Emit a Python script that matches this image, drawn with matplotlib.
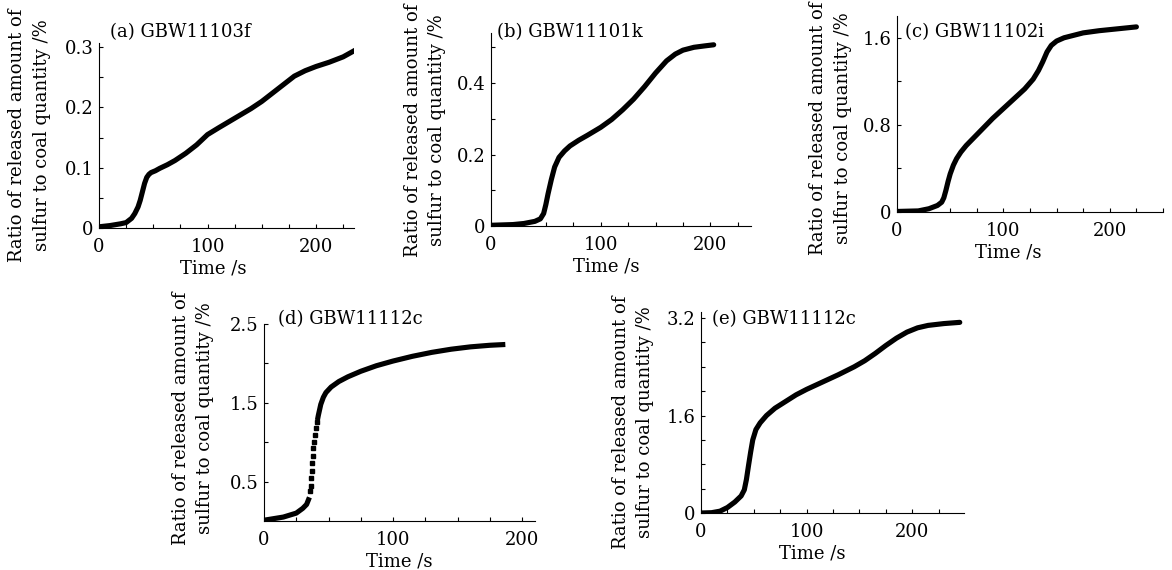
import matplotlib
matplotlib.use("Agg")
import matplotlib.pyplot as plt
from matplotlib.ticker import MultipleLocator, FixedLocator

plt.rcParams['font.family'] = ['DejaVu Serif']

# ---------------- data ----------------
a_t = [0, 10, 20, 25, 30, 33, 36, 38, 40, 42, 44, 46, 48, 52, 56, 63, 70, 80, 90, 100,
       110, 125, 140, 150, 160, 170, 180, 190, 200, 212, 225, 236]
a_v = [0.002, 0.004, 0.007, 0.009, 0.016, 0.024, 0.035, 0.046, 0.060, 0.074, 0.084, 0.089,
       0.092, 0.095, 0.099, 0.105, 0.112, 0.124, 0.138, 0.155, 0.166, 0.182, 0.198, 0.210,
       0.224, 0.238, 0.252, 0.261, 0.268, 0.275, 0.284, 0.295]

b_t = [0, 20, 30, 40, 45, 48, 50, 52, 55, 58, 62, 67, 72, 80, 88, 100, 110, 120, 130, 140,
       150, 160, 168, 175, 185, 195, 203]
b_v = [0.002, 0.004, 0.007, 0.013, 0.020, 0.035, 0.060, 0.090, 0.130, 0.165, 0.192, 0.210,
       0.224, 0.240, 0.254, 0.276, 0.298, 0.325, 0.355, 0.390, 0.428, 0.462, 0.481, 0.492,
       0.500, 0.504, 0.507]

c_t = [0, 20, 30, 38, 42, 44, 46, 48, 50, 53, 56, 60, 65, 70, 80, 90, 100, 110, 120, 128,
       133, 137, 141, 145, 150, 157, 165, 175, 190, 205, 225]
c_v = [0.005, 0.010, 0.030, 0.060, 0.090, 0.130, 0.200, 0.280, 0.350, 0.430, 0.490, 0.550,
       0.610, 0.660, 0.760, 0.860, 0.950, 1.040, 1.130, 1.220, 1.300, 1.380, 1.470, 1.530,
       1.570, 1.600, 1.620, 1.645, 1.665, 1.680, 1.700]

d_t_low = [0, 15, 25, 30, 33, 35.2]
d_v_low = [0.01, 0.05, 0.10, 0.16, 0.21, 0.30]
d_t_jump = [35.7, 36.2, 36.7, 37.2, 37.4, 37.7, 38.2, 38.8, 39.3, 40.1, 41.0]
d_v_jump = [0.38, 0.45, 0.55, 0.63, 0.74, 0.82, 0.93, 1.00, 1.09, 1.18, 1.26]
d_t_high = [41.4, 42.1, 44, 46, 48, 52, 58, 65, 75, 87, 100, 115, 130, 145, 160, 175, 187]
d_v_high = [1.28, 1.34, 1.48, 1.57, 1.63, 1.70, 1.77, 1.83, 1.90, 1.97, 2.03, 2.09, 2.14,
            2.18, 2.21, 2.23, 2.24]

e_t = [0, 10, 18, 25, 32, 38, 41, 43, 45, 47, 49, 52, 56, 62, 70, 80, 90, 100, 115, 130,
       145, 155, 165, 175, 185, 195, 205, 215, 230, 245]
e_v = [0.0, 0.005, 0.03, 0.09, 0.18, 0.28, 0.38, 0.55, 0.78, 1.00, 1.20, 1.37, 1.48, 1.60,
       1.72, 1.83, 1.94, 2.03, 2.15, 2.27, 2.40, 2.50, 2.62, 2.75, 2.87, 2.97, 3.04, 3.08,
       3.11, 3.13]

titles = ["(a) GBW11103f", "(b) GBW11101k", "(c) GBW11102i", "(d) GBW11112c", "(e) GBW11112c"]
ylabel_text = "Ratio of released amount of\nsulfur to coal quantity /%"
xlabel_text = "Time /s"

x_major = [0, 100, 200]
x_major_labels = ["0", "100", "200"]
a_yticks = [0, 0.1, 0.2, 0.3]; a_ylabels = ["0", "0.1", "0.2", "0.3"]
b_yticks = [0, 0.2, 0.4]; b_ylabels = ["0", "0.2", "0.4"]
c_yticks = [0, 0.8, 1.6]; c_ylabels = ["0", "0.8", "1.6"]
d_yticks = [0.5, 1.5, 2.5]; d_ylabels = ["0.5", "1.5", "2.5"]
e_yticks = [0, 1.6, 3.2]; e_ylabels = ["0", "1.6", "3.2"]

# ---------------- layout ----------------
W, H = 1172, 570
fig = plt.figure(figsize=(W / 100, H / 100), dpi=100)
fig.patch.set_facecolor("white")


def add_axes(left, right, top, bottom):
    return fig.add_axes([left / W, 1 - bottom / H, (right - left) / W, (bottom - top) / H])


specs = [
    dict(box=(99, 354, 43, 228), xmax=235, ymax=0.307, yt=a_yticks, yl=a_ylabels, ym=0.05,
         tpos=(110, 37), ypos=(30, 135)),
    dict(box=(491, 751, 33, 226), xmax=237, ymax=0.54, yt=b_yticks, yl=b_ylabels, ym=0.1,
         tpos=(497, 37), ypos=(425, 130)),
    dict(box=(897, 1163, 16, 212), xmax=250, ymax=1.80, yt=c_yticks, yl=c_ylabels, ym=0.4,
         tpos=(905, 37), ypos=(831, 128)),
    dict(box=(264, 535, 324, 521), xmax=210, ymax=2.5, yt=d_yticks, yl=d_ylabels, ym=None,
         tpos=(278, 324), ypos=(193, 418)),
    dict(box=(701, 964, 312, 513), xmax=249, ymax=3.30, yt=e_yticks, yl=e_ylabels, ym=0.4,
         tpos=(712, 324), ypos=(633, 422)),
]

series = [(a_t, a_v), (b_t, b_v), (c_t, c_v), None, (e_t, e_v)]

LW = 3.7
for i, s in enumerate(specs):
    l, r, t, b = s["box"]
    ax = add_axes(l, r, t, b)
    if series[i] is not None:
        ax.plot(series[i][0], series[i][1], color="black", lw=LW, solid_capstyle="round",
                solid_joinstyle="round")
    else:
        ax.plot(d_t_low, d_v_low, color="black", lw=LW, solid_capstyle="butt",
                solid_joinstyle="round")
        ax.plot(d_t_jump, d_v_jump, linestyle="none", marker="s", ms=3.0, color="black")
        ax.plot(d_t_high, d_v_high, color="black", lw=LW, solid_capstyle="butt",
                solid_joinstyle="round")
    ax.set_xlim(0, s["xmax"])
    ax.set_ylim(0, s["ymax"])
    for sp in ["top", "right"]:
        ax.spines[sp].set_visible(False)
    for sp in ["left", "bottom"]:
        ax.spines[sp].set_linewidth(0.8)
    ax.set_xticks(x_major)
    ax.set_xticklabels(x_major_labels)
    ax.xaxis.set_minor_locator(MultipleLocator(25))
    ax.set_yticks(s["yt"])
    ax.set_yticklabels(s["yl"])
    if s["ym"] is not None:
        ax.yaxis.set_minor_locator(MultipleLocator(s["ym"]))
    else:
        ax.yaxis.set_minor_locator(FixedLocator([1.0, 2.0]))
    ax.tick_params(which="both", direction="in", length=3, width=0.8, labelsize=13)
    ax.tick_params(axis="x", which="both", pad=7)
    ax.tick_params(axis="y", which="both", pad=4)
    ax.set_facecolor("none")
    ax.set_xlabel(xlabel_text, fontsize=13, labelpad=3, x=105 / s["xmax"])
    fig.text(s["tpos"][0] / W, 1 - s["tpos"][1] / H, titles[i], fontsize=13,
             ha="left", va="baseline")
    fig.text(s["ypos"][0] / W, 1 - s["ypos"][1] / H, ylabel_text, fontsize=13,
             rotation=90, ha="center", va="center", multialignment="center", linespacing=1.5)

fig.savefig("out.png", dpi=100, facecolor="white")
